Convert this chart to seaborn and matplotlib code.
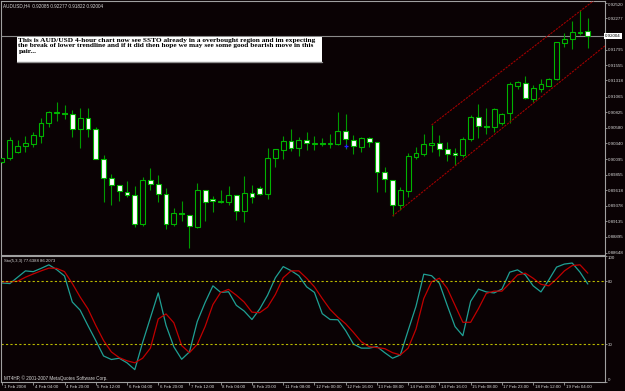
import numpy as np
import pandas as pd
import matplotlib
matplotlib.use("Agg")
import matplotlib.pyplot as plt
import matplotlib.transforms as mtransforms
from matplotlib.patches import Rectangle
import seaborn as sns

# ---------------- data ----------------
header_text = "AUDUSD,H4  0.92085 0.92277 0.91822 0.92004"
stoch_text = "Sto(5,3,3) 77.6388 86.2073"
copyright_text = "MT4HP, \u00a9 2001-2007 MetaQuotes Software Corp."
note_text = ("This is AUD/USD 4-hour chart now see SSTO already in a overbought region and im expecting\n"
             "the break of lower trendline and if it did then hope we may see some good bearish move in this\n"
             "pair...")

opens = [0.90053, 0.90119, 0.90203, 0.90296, 0.90336, 0.90455, 0.90652, 0.90812, 0.90812, 0.90796,
         0.90569, 0.90739, 0.90569, 0.90099, 0.89805, 0.89697, 0.89593, 0.89537, 0.89088, 0.89774,
         0.89707, 0.89559, 0.89097, 0.89258, 0.89236, 0.89046, 0.89619, 0.89484, 0.89433, 0.89433,
         0.89546, 0.89289, 0.89568, 0.89645, 0.89562, 0.90110, 0.90243, 0.90373, 0.90270, 0.90389,
         0.90332, 0.90352, 0.90336, 0.90332, 0.90528, 0.90394, 0.90290, 0.90420, 0.90367, 0.89903,
         0.89774, 0.89387, 0.89611, 0.90126, 0.90177, 0.90321, 0.90342, 0.90254, 0.90188, 0.90161,
         0.90404, 0.90750, 0.90610, 0.90600, 0.90661, 0.90807, 0.91235, 0.91281, 0.91029, 0.91188,
         0.91235, 0.91334, 0.91901, 0.91953, 0.92055, 0.92085]
highs = [0.90120, 0.90445, 0.90389, 0.90451, 0.90517, 0.90734, 0.90843, 0.90977, 0.90940, 0.90858,
         0.90884, 0.90884, 0.90600, 0.90161, 0.89862, 0.89697, 0.89759, 0.89681, 0.89816, 0.89965,
         0.89851, 0.89655, 0.89345, 0.89449, 0.89236, 0.89732, 0.89619, 0.89522, 0.89619, 0.89676,
         0.89546, 0.89836, 0.89697, 0.89681, 0.90270, 0.90249, 0.90455, 0.90559, 0.90445, 0.90522,
         0.90455, 0.90425, 0.90486, 0.90827, 0.90796, 0.90476, 0.90445, 0.90435, 0.90367, 0.89971,
         0.89774, 0.89670, 0.90192, 0.90285, 0.90486, 0.90626, 0.90471, 0.90358, 0.90265, 0.90445,
         0.90781, 0.90956, 0.90889, 0.90889, 0.90807, 0.91287, 0.91312, 0.91380, 0.91245, 0.91334,
         0.91349, 0.91907, 0.92046, 0.92237, 0.92401, 0.92277]
lows = [0.90040, 0.90084, 0.90195, 0.90212, 0.90282, 0.90342, 0.90600, 0.90692, 0.90723, 0.90445,
        0.90270, 0.90445, 0.90095, 0.89438, 0.89387, 0.89449, 0.89506, 0.89046, 0.89061, 0.89614,
        0.89438, 0.89016, 0.89061, 0.89139, 0.88716, 0.89030, 0.89144, 0.89283, 0.89413, 0.89387,
        0.89154, 0.89128, 0.89418, 0.89542, 0.89475, 0.89980, 0.90095, 0.90228, 0.90146, 0.90243,
        0.90234, 0.90296, 0.90270, 0.90316, 0.90254, 0.90181, 0.90203, 0.90290, 0.89593, 0.89593,
        0.89216, 0.89309, 0.89515, 0.90095, 0.90146, 0.90212, 0.90146, 0.90073, 0.90006, 0.90126,
        0.90383, 0.90420, 0.90491, 0.90522, 0.90626, 0.90661, 0.91183, 0.91029, 0.90987, 0.91137,
        0.91230, 0.91323, 0.91829, 0.91798, 0.92020, 0.91822]
closes = [0.90110, 0.90389, 0.90296, 0.90352, 0.90466, 0.90661, 0.90823, 0.90823, 0.90792, 0.90569,
          0.90739, 0.90569, 0.90104, 0.89800, 0.89701, 0.89599, 0.89537, 0.89088, 0.89774, 0.89707,
          0.89559, 0.89097, 0.89258, 0.89242, 0.89062, 0.89619, 0.89433, 0.89449, 0.89453, 0.89537,
          0.89289, 0.89568, 0.89515, 0.89562, 0.90119, 0.90249, 0.90383, 0.90274, 0.90389, 0.90342,
          0.90352, 0.90332, 0.90347, 0.90528, 0.90404, 0.90301, 0.90429, 0.90367, 0.89903, 0.89785,
          0.89387, 0.89619, 0.90146, 0.90188, 0.90327, 0.90342, 0.90249, 0.90181, 0.90166, 0.90414,
          0.90750, 0.90610, 0.90595, 0.90869, 0.90792, 0.91256, 0.91287, 0.91039, 0.91194, 0.91256,
          0.91343, 0.91907, 0.91953, 0.92062, 0.92066, 0.92004]

stoch_main = [78.5, 78, 83, 88, 87.4, 90, 92.8, 89, 84, 63.4,
              57, 44.8, 33, 20.8, 18, 19, 15.4, 10, 31.4, 51,
              70.6, 45, 28, 18.2, 24, 48, 63, 76.2, 71, 71.5,
              60.8, 56.3, 49.6, 58, 68.8, 82.6, 91.4, 88.2, 84.2, 75.4,
              71, 54.2, 49.6, 49.4, 40.8, 30.2, 27, 27, 28.2, 23.4,
              19, 21.6, 41, 60, 85.4, 84.2, 78.2, 60.8, 44, 36.8,
              64, 73.6, 71.4, 70.6, 73.6, 87, 88.8, 84.8, 76.2, 71.4,
              80.8, 91, 93.4, 94.2, 87, 77.64]
stoch_signal = [79.4, 79.4, 79.8, 83, 85.6, 88, 90.2, 90, 87.4, 78,
                67.4, 58, 45, 33, 24, 19.5, 17, 15.4, 19, 27,
                50, 54, 47, 29, 23.4, 30, 44, 61.4, 71, 73.4,
                68.8, 63.4, 55.4, 55, 59.4, 69.4, 82.6, 88, 88, 82.2,
                75.4, 66.2, 57.6, 51.4, 46.2, 39.4, 32, 28.2, 27.4, 26.6,
                23.4, 21.6, 27, 42, 66.2, 79.4, 82.2, 74.2, 60.8, 47.4,
                47.4, 58.2, 70.2, 72, 72, 78.2, 84.8, 86.2, 82.2, 77.4,
                76.2, 81.6, 88, 92.2, 92.8, 86.21]
stoch_levels = [80, 30]
stoch_tick_values = [0, 30, 80, 100]

time_labels = ["1 Feb 2008", "4 Feb 04:00", "4 Feb 20:00", "5 Feb 12:00", "6 Feb 04:00",
               "6 Feb 20:00", "7 Feb 12:00", "8 Feb 04:00", "8 Feb 20:00", "11 Feb 08:00",
               "12 Feb 00:00", "12 Feb 16:00", "13 Feb 08:00", "14 Feb 00:00", "14 Feb 16:00",
               "15 Feb 08:00", "17 Feb 23:00", "18 Feb 12:00", "19 Feb 04:00"]
time_label_bars = [0, 4, 8, 12, 16, 20, 24, 28, 32, 36, 40, 44, 48, 52, 56, 60, 64, 68, 72]

price_tick_labels = ["0.92520", "0.92277", "0.91795", "0.91555", "0.91318", "0.91065", "0.90825",
                     "0.90580", "0.90340", "0.90095", "0.89855", "0.89618", "0.89378", "0.89135",
                     "0.88895", "0.88648"]
bid_price = 0.92004

# trendlines: (bar, price) anchors
lower_tl_bars = [50, 72.7]
lower_tl_prices = [0.89216, 0.91416]
upper_tl_bars = [55, 72.7]
upper_tl_prices = [0.90626, 0.92268]

marker_bar = 44
marker_price = 0.90297

# ---------------- style ----------------
BG = '#0a0204'
FRAME = '#a0a0a0'
TXT = '#d8d8d8'
EDGE = '#00b400'
WICK = '#009a00'

sns.set_theme(style='dark', rc={'figure.facecolor': BG, 'axes.facecolor': BG,
                                'savefig.facecolor': BG, 'axes.grid': False})
plt.rcParams['font.family'] = ['Liberation Sans', 'DejaVu Sans']

W, H = 625, 391
fig = plt.figure(figsize=(6.25, 3.91), dpi=100)


def fbox(x0, y0, x1, y1):
    return [x0 / W, 1 - y1 / H, (x1 - x0) / W, (y1 - y0) / H]


ax = fig.add_axes(fbox(1, 1.3, 605, 254.5))
axs = fig.add_axes(fbox(1, 255.7, 605, 382.3))

n = len(opens)
bars = np.arange(n)
o = np.array(opens); c = np.array(closes); hi = np.array(highs); lo = np.array(lows)
bull = c >= o
xlim = (-0.13, 77.2)

# ---- candles ----
ax.vlines(bars, lo, hi, color=WICK, lw=0.8, zorder=2)
body_bottom = np.minimum(o, c)
body_h = np.maximum(np.abs(c - o), 0.00003)
face = [BG if b else 'white' for b in bull]
ax.bar(bars, body_h, bottom=body_bottom, width=0.62, color=face,
       edgecolor=EDGE, linewidth=0.8, zorder=3)

ax.set_xlim(*xlim)
ax.set_ylim(0.886201, 0.925417)

# bid line
ax.axhline(bid_price, color='#8a8a8a', lw=0.8, zorder=1)

# trendlines (rays to the right)
for bx, py in ((lower_tl_bars, lower_tl_prices), (upper_tl_bars, upper_tl_prices)):
    slope = (py[1] - py[0]) / (bx[1] - bx[0])
    x_end = xlim[1]
    ax.plot([bx[0], x_end], [py[0], py[0] + slope * (x_end - bx[0])],
            color='#a00000', lw=0.8, ls=(0, (2, 1)), zorder=4)

ax.plot([marker_bar], [marker_price], marker='+', color='#2020ff', ms=3.5, mew=0.9, zorder=5)

# price axis
ax.yaxis.tick_right()
ax.set_yticks([float(s) for s in price_tick_labels])
ax.set_yticklabels(price_tick_labels)
ax.tick_params(axis='y', which='both', right=True, left=False, length=1.4, width=0.6,
               color=FRAME, labelsize=3.2, labelcolor=TXT, pad=0.6)
ax.set_xticks([])
for t, s in zip(ax.yaxis.get_major_ticks(), price_tick_labels):
    if s == price_tick_labels[0]:
        t.label2.set_va('top')

ax.text(1.0, bid_price, format(bid_price, '.5f'),
        transform=mtransforms.blended_transform_factory(ax.transAxes, ax.transData),
        ha='left', va='center', fontsize=3.2, color='black',
        bbox=dict(facecolor='white', edgecolor='none', boxstyle='square,pad=0.3'), zorder=10, clip_on=False)

# ---- stochastic ----
df = pd.DataFrame({'bar': bars, 'main': stoch_main, 'signal': stoch_signal})
sns.lineplot(data=df, x='bar', y='main', ax=axs, color='#1fa094', lw=0.9)
sns.lineplot(data=df, x='bar', y='signal', ax=axs, color='#c00000', lw=0.9)
for lv in stoch_levels:
    axs.axhline(lv, color='#b8b800', lw=0.8, ls=(0, (2, 2)))
axs.set_xlim(*xlim)
axs.set_ylim(0, 100)
axs.set_xlabel('')
axs.set_ylabel('')
axs.yaxis.tick_right()
axs.set_yticks(stoch_tick_values)
axs.set_yticklabels([str(v) for v in stoch_tick_values])
axs.tick_params(axis='y', which='both', right=True, left=False, length=1.4, width=0.6,
                color=FRAME, labelsize=3.2, labelcolor=TXT, pad=0.6)
for t, v in zip(axs.yaxis.get_major_ticks(), stoch_tick_values):
    if v == 100:
        t.label2.set_va('top')
    elif v == 0:
        t.label2.set_va('bottom')

axs.set_xticks(time_label_bars)
axs.tick_params(axis='x', bottom=True, length=2.5, width=0.6, color=FRAME,
                direction='out', labelbottom=False)
for b, lbl in zip(time_label_bars, time_labels):
    axs.annotate(lbl, xy=(b, 0), xycoords=('data', 'axes fraction'),
                 xytext=(1.1, -3.4), textcoords='offset points',
                 ha='left', va='center', fontsize=3.2, color=TXT, annotation_clip=False)

for a in (ax, axs):
    for sp in a.spines.values():
        sp.set_color(FRAME)
        sp.set_linewidth(0.8)
        sp.set_visible(True)

# ---- texts ----
fig.text(3 / W, 1 - 5.5 / H, header_text, ha='left', va='center', fontsize=3.3, color=TXT)
axs.text(3 / 604, 1 - 5 / 126.6, stoch_text, transform=axs.transAxes, ha='left', va='center',
         fontsize=3.1, color=TXT)
axs.text(3 / 604, 4.6 / 126.6, copyright_text, transform=axs.transAxes, ha='left', va='center',
         fontsize=3.3, color=TXT)

# note box
fig.patches.append(Rectangle((16.7 / W, 1 - 62.3 / H), 305.3 / W, 25 / H, transform=fig.transFigure,
                             facecolor='white', edgecolor='none', zorder=20))
fig.lines.append(plt.Line2D([16.7 / W, 322 / W], [1 - 62 / H, 1 - 62 / H], transform=fig.transFigure,
                            color='#909090', lw=1.0, zorder=21))
fig.text(18.5 / W, 1 - 38.3 / H, note_text, ha='left', va='top', fontsize=5.35,
         family=['Liberation Serif', 'DejaVu Serif'], fontweight='bold', color='black',
         linespacing=1.05, zorder=22)

fig.savefig('out.png', dpi=100, facecolor=BG)
